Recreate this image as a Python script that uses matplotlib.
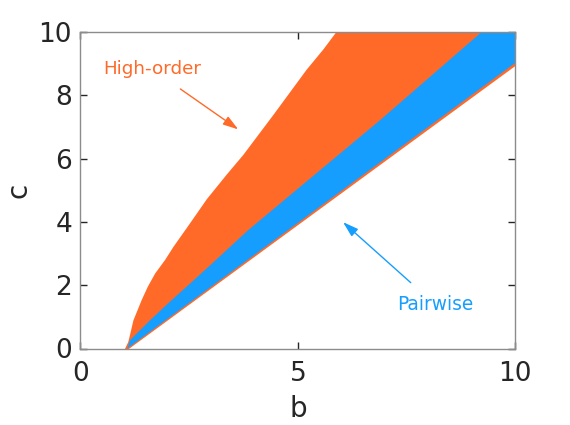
import matplotlib
matplotlib.use("Agg")
import matplotlib.pyplot as plt

# boundaries
# high-order region: upper edge (b, c)
high_upper_b = [1.03, 1.10, 1.14, 1.22, 1.33, 1.41, 1.55, 1.72, 1.95, 2.14, 2.52, 2.91, 3.37, 3.75, 4.44, 5.20, 5.59, 5.89, 10.0]
high_upper_c = [0.00, 0.20, 0.42, 0.89, 1.26, 1.53, 1.95, 2.37, 2.80, 3.21, 3.95, 4.72, 5.50, 6.12, 7.38, 8.80, 9.45, 10.0, 10.0]
# high-order region: lower edge
high_lower_b = [1.03, 10.0]
high_lower_c = [-0.10, 8.92]

# pairwise region: upper edge
pair_upper_b = [1.08, 1.14, 1.60, 2.06, 2.52, 3.00, 3.86, 4.13, 6.89, 9.23, 10.0]
pair_upper_c = [0.00, 0.26, 0.89, 1.48, 2.05, 2.65, 3.74, 4.05, 7.21, 10.0, 10.0]
# pairwise region: lower edge
pair_lower_b = [1.08, 10.0]
pair_lower_c = [0.00, 9.02]

xticks = [0, 5, 10]
yticks = [0, 2, 4, 6, 8, 10]

orange = "#FF6A29"
blue = "#169EFF"
dark = "#262626"

plt.rcParams['font.family'] = ['DejaVu Sans']

fig = plt.figure(figsize=(5.7, 4.25), dpi=100)
ax = fig.add_axes([0.141, 0.180, 0.763, 0.745])


def region(ub, uc, lb, lc):
    xs = list(ub) + list(lb)[::-1]
    ys = list(uc) + list(lc)[::-1]
    return xs, ys


xs, ys = region(high_upper_b, high_upper_c, high_lower_b, high_lower_c)
ax.fill(xs, ys, color=orange, lw=0, zorder=1)
xs, ys = region(pair_upper_b, pair_upper_c, pair_lower_b, pair_lower_c)
ax.fill(xs, ys, color=blue, lw=0, zorder=2)

ax.set_xlim(0, 10)
ax.set_ylim(0, 10)
ax.set_xticks(xticks)
ax.set_yticks(yticks)
ax.tick_params(direction='in', length=5, width=1, color=dark, labelcolor=dark,
               labelsize=19, top=True, right=True)
ax.tick_params(axis='x', pad=9)
ax.tick_params(axis='y', pad=6)
for s in ax.spines.values():
    s.set_color("#8c8c8c")
    s.set_linewidth(1)

ax.set_xlabel("b", fontsize=20, color=dark, labelpad=6)
ax.set_ylabel("c", fontsize=20, color=dark, labelpad=4)

ax.annotate("High-order", xy=(3.63, 6.92), xytext=(1.65, 8.82),
            color=orange, fontsize=13.2, ha='center', va='center',
            arrowprops=dict(arrowstyle='-|>,head_length=0.7,head_width=0.22',
                            color=orange, lw=1, shrinkA=10, shrinkB=0))
ax.annotate("Pairwise", xy=(6.04, 3.99), xytext=(8.15, 1.40),
            color=blue, fontsize=13.4, ha='center', va='center',
            arrowprops=dict(arrowstyle='-|>,head_length=0.7,head_width=0.22',
                            color=blue, lw=1, shrinkA=10, shrinkB=0))

fig.savefig("out.png", dpi=100)
